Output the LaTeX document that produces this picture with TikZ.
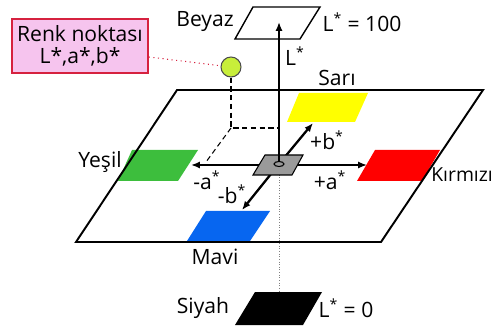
\documentclass[tikz,border=0pt]{standalone}
\usepackage{fontspec}
\setmainfont{Open Sans}
\usepackage{xcolor}
\definecolor{labpink}{HTML}{F6C4EE}
\definecolor{labred}{HTML}{D6213F}
\definecolor{labdot}{HTML}{C8EE3A}
\definecolor{labgreen}{HTML}{3DBE3D}
\definecolor{labblue}{HTML}{0766F0}
\definecolor{labyellow}{HTML}{FFFF00}
\definecolor{labgray}{HTML}{9A9A9A}
\usetikzlibrary{arrows.meta, positioning}

\begin{document}
\begin{tikzpicture}[x=0.02cm, y=-0.02cm,
  lbl/.style={inner sep=0pt, font=\fontsize{12}{14}\selectfont},
  axis/.style={line width=1.3pt, -{Latex[length=5pt,width=4pt]}},
  guide/.style={line width=0.6pt, dash pattern=on 3pt off 2pt}
]
\useasboundingbox (0,0) rectangle (496,327);
% colour patches on the a*b* plane
\fill[labyellow] (299,93) -- (368,93) -- (355,122) -- (287,122) -- cycle;
\fill[labgreen] (132,150) -- (198,150) -- (178,181) -- (118,181) -- cycle;
\fill[red] (375,150) -- (440,150) -- (422,181) -- (357,181) -- cycle;
\fill[labblue] (206,211) -- (270,211) -- (250,241) -- (187,241) -- cycle;
% plane
\draw[line width=1.1pt] (177,90) -- (483,90) -- (381,242) -- (76,242) -- cycle;
% white and black ends
\draw[line width=0.8pt, fill=white] (253,7) -- (320,7) -- (300,39) -- (235,39) -- cycle;
\fill (255,292) -- (322,292) -- (303,325) -- (235,325) -- cycle;

\coordinate (O) at (279,164);
\coordinate (aneg) at (191,165);
\coordinate (apos) at (367,165);
\coordinate (bpos) at (313,123);
\coordinate (bneg) at (242,210);
\coordinate (Ltop) at (279,22);
\coordinate (Lbot) at (279,292);

\draw[axis] (O |- aneg) -- (aneg);
\draw[axis] (O |- apos) -- (apos);
\draw[axis] (O) -- (bpos);
\draw[axis] (O) -- (bneg);
\draw[line width=0.5pt, densely dotted, gray] (O) -- (Lbot);
\draw[line width=0.6pt, fill=labgray] (265,155) -- (303,155) -- (292,175) -- (253,175) -- cycle;
\draw[axis] (O) -- (Ltop);
\draw[line width=0.6pt, fill=labgray] (O) ellipse [x radius=5, y radius=2.5];

% colour point
\node[circle, draw=black!70, fill=labdot, line width=0.6pt, minimum size=0.4cm, inner sep=0pt] (pt) at (231,67) {};
\coordinate (foot) at (231,128);
\draw[guide] (pt) -- (foot) -- (O |- foot);
\draw[guide] (foot) -- (206,162);

\node[draw=labred, fill=labpink, line width=1pt, align=center, minimum width=2.72cm, minimum height=1.08cm, inner sep=0pt, font=\fontsize{12}{12.5}\selectfont] (note) at (80,46) {Renk noktası\\L*,a*,b*};
\draw[labred, line width=0.6pt, dotted] ([yshift=-0.22cm]note.east) -- (pt);

% labels
\node[lbl] (beyaz) at (205,22) {Beyaz};
\node[lbl] (lmax) at (362,22) {L\textsuperscript{*} = 100};
\node[lbl] (lax) at (295,56) {L\textsuperscript{*}};
\node[lbl] (sari) at (337,78) {Sarı};
\node[lbl] (yesil) at (100,162) {Yeşil};
\node[lbl, anchor=west, font=\fontsize{11}{13}\selectfont] (kirmizi) at (431,175) {Kırmızı};
\node[lbl] (amin) at (207,180) {-a\textsuperscript{*}};
\node[lbl] (aplus) at (330,180) {+a\textsuperscript{*}};
\node[lbl] (bplus) at (327,140) {+b\textsuperscript{*}};
\node[lbl] (bmin) at (232,194) {-b\textsuperscript{*}};
\node[lbl] (mavi) at (215,257) {Mavi};
\node[lbl] (siyah) at (203,308) {Siyah};
\node[lbl] (lmin) at (346,308) {L\textsuperscript{*} = 0};
\end{tikzpicture}
\end{document}
